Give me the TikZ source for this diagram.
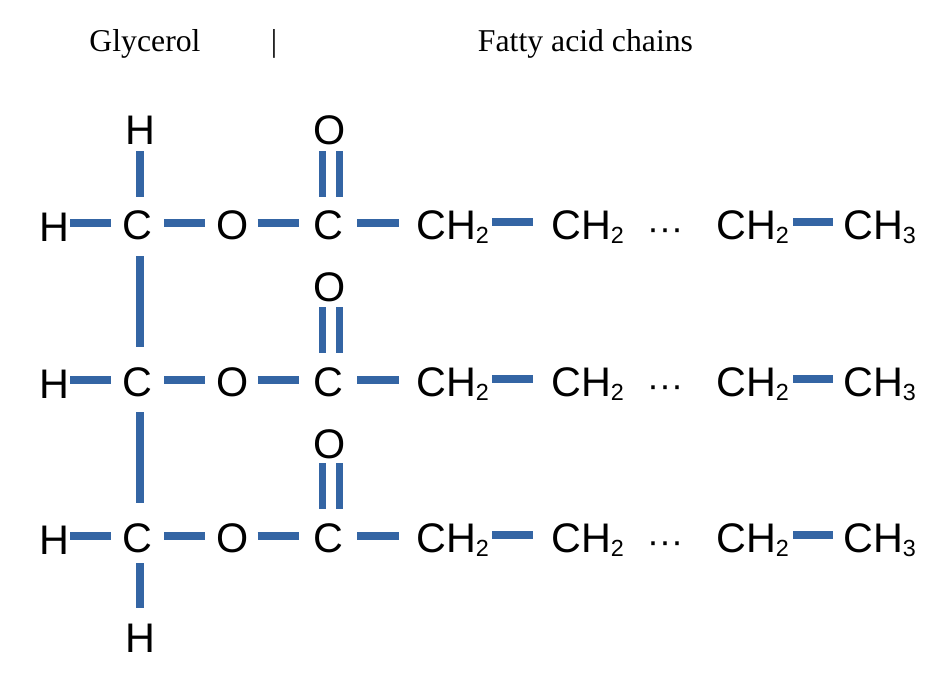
\documentclass[tikz,border=0pt]{standalone}
\usepackage{fontspec}
\setmainfont{Liberation Sans}
\newfontfamily\titlefont{Liberation Serif}
\usetikzlibrary{calc}
\definecolor{bondblue}{HTML}{3465A4}
\newcommand{\subnum}[1]{\raisebox{-3pt}{\fontsize{17.5}{17.5}\selectfont #1}}
\tikzset{
  x=0.75pt, y=-0.75pt,
  atom/.style={inner sep=0pt, outer sep=0pt, anchor=base, text height=24pt, text depth=0pt,
    font=\fontsize{31}{31}\selectfont, text=black},
  titletext/.style={inner sep=0pt, anchor=base, font=\titlefont\fontsize{23.8}{23.8}\selectfont, text=black},
  bond/.style={draw=bondblue, line width=5.6pt, line cap=butt},
  trim/.style 2 args={shorten <=#1*0.75pt, shorten >=#2*0.75pt}
}
\begin{document}
\begin{tikzpicture}
\useasboundingbox (0,0) rectangle (942,686);
\node[titletext] (tglycerol) at (145,51) {Glycerol};
\node[titletext] (tbar) at (274,51) {|};
\node[titletext] (tfatty) at (585.5,51) {Fatty acid chains};

\node[atom] (Htop) at (140,144) {H};
\node[atom] (Hbot) at (140,652) {H};

\foreach \r/\yb/\yo/\ds/\dt in {1/239/144/23/26, 2/396/301/22/27, 3/552/458/21/27}{
  \node[atom] (HL\r) at (54,\yb+2) {H};
  \node[atom] (C\r) at (137,\yb) {C};
  \node[atom] (O\r) at (232.5,\yb) {O};
  \node[atom] (K\r) at (328,\yb) {C};
  \node[atom] (D\r) at (329.5,\yo) {O};
  \node[atom] (A\r) at (452.5,\yb) {CH\subnum{2}};
  \node[atom] (B\r) at (587.5,\yb) {CH\subnum{2}};
  \node[atom] (G\r) at (665,\yb+1) {\fontsize{27}{27}\selectfont ···};
  \node[atom] (E\r) at (752.5,\yb) {CH\subnum{2}};
  \node[atom] (M\r) at (879.5,\yb) {CH\subnum{3}};
  \draw[bond, trim={16}{26.5}] (C\r.center -| HL\r.center) -- (C\r.center);
  \draw[bond, trim={27}{27.5}] (C\r.center) -- (O\r.center);
  \draw[bond, trim={25}{29}] (O\r.center) -- (K\r.center);
  \draw[bond, trim={29}{53.5}] (K\r.center) -- (A\r.center);
  \draw[bond, trim={39.5}{54.5}] ([yshift=0.75pt]A\r.center) -- ([yshift=0.75pt]B\r.center);
  \draw[bond, trim={40.5}{46.5}] ([yshift=0.75pt]E\r.center) -- ([yshift=0.75pt]M\r.center);
  \draw[bond, trim={\ds}{\dt}] ([xshift=-5.4pt]D\r.center) -- ([xshift=-5.4pt]D\r.center |- K\r.center);
  \draw[bond, trim={\ds}{\dt}] ([xshift=7.6pt]D\r.center) -- ([xshift=7.6pt]D\r.center |- K\r.center);
}
\draw[bond, trim={23}{26}] (Htop.center) -- (Htop.center |- C1.center);
\draw[bond, trim={33}{33}] (Htop.center |- C1.center) -- (Htop.center |- C2.center);
\draw[bond, trim={32}{33}] (Htop.center |- C2.center) -- (Htop.center |- C3.center);
\draw[bond, trim={27}{28}] (Htop.center |- C3.center) -- (Hbot.center);
\end{tikzpicture}
\end{document}
